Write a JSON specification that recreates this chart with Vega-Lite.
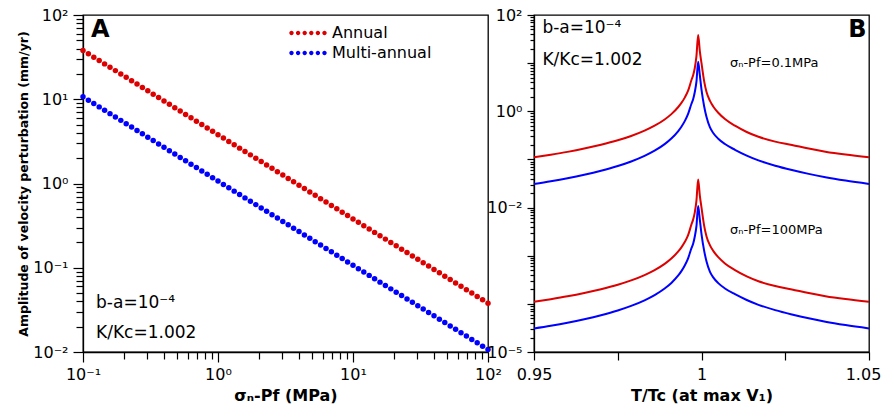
{
  "$schema": "https://vega.github.io/schema/vega-lite/v6.json",
  "padding": {"left": 16, "top": 6, "right": 14, "bottom": 8},
  "bounds": "flush",
  "spacing": 46,
  "resolve": {"scale": {"color": "independent"}, "legend": {"color": "independent"}},
  "config": {
    "font": "DejaVu Sans",
    "view": {"stroke": "black", "strokeWidth": 1.3},
    "axis": {"grid": false, "domainColor": "black", "tickColor": "black", "labelColor": "black", "titleColor": "black", "domainWidth": 1.3, "tickWidth": 1.2, "labelOverlap": false, "labelFontSize": 16}
  },
  "hconcat": [
    {
      "width": 405,
      "height": 337,
      "layer": [
        {
          "data": {"values": [
            {"x":0.1,"Annual":38,"Multi-annual":10.7},
            {"x":0.10965,"Annual":34.656,"Multi-annual":9.759},
            {"x":0.12023,"Annual":31.607,"Multi-annual":8.9},
            {"x":0.13183,"Annual":28.826,"Multi-annual":8.117},
            {"x":0.14454,"Annual":26.29,"Multi-annual":7.403},
            {"x":0.15849,"Annual":23.976,"Multi-annual":6.751},
            {"x":0.17378,"Annual":21.867,"Multi-annual":6.157},
            {"x":0.19055,"Annual":19.943,"Multi-annual":5.615},
            {"x":0.20893,"Annual":18.188,"Multi-annual":5.121},
            {"x":0.22909,"Annual":16.588,"Multi-annual":4.671},
            {"x":0.25119,"Annual":15.128,"Multi-annual":4.26},
            {"x":0.27542,"Annual":13.797,"Multi-annual":3.885},
            {"x":0.302,"Annual":12.583,"Multi-annual":3.543},
            {"x":0.33113,"Annual":11.476,"Multi-annual":3.231},
            {"x":0.36308,"Annual":10.466,"Multi-annual":2.947},
            {"x":0.39811,"Annual":9.545,"Multi-annual":2.688},
            {"x":0.43652,"Annual":8.705,"Multi-annual":2.451},
            {"x":0.47863,"Annual":7.939,"Multi-annual":2.236},
            {"x":0.52481,"Annual":7.241,"Multi-annual":2.039},
            {"x":0.57544,"Annual":6.604,"Multi-annual":1.859},
            {"x":0.63096,"Annual":6.023,"Multi-annual":1.696},
            {"x":0.69183,"Annual":5.493,"Multi-annual":1.547},
            {"x":0.75858,"Annual":5.01,"Multi-annual":1.411},
            {"x":0.83176,"Annual":4.569,"Multi-annual":1.286},
            {"x":0.91201,"Annual":4.167,"Multi-annual":1.173},
            {"x":1,"Annual":3.8,"Multi-annual":1.07},
            {"x":1.0965,"Annual":3.4656,"Multi-annual":0.9759},
            {"x":1.2023,"Annual":3.1607,"Multi-annual":0.89},
            {"x":1.3183,"Annual":2.8826,"Multi-annual":0.8117},
            {"x":1.4454,"Annual":2.629,"Multi-annual":0.7403},
            {"x":1.5849,"Annual":2.3976,"Multi-annual":0.6751},
            {"x":1.7378,"Annual":2.1867,"Multi-annual":0.6157},
            {"x":1.9055,"Annual":1.9943,"Multi-annual":0.5615},
            {"x":2.0893,"Annual":1.8188,"Multi-annual":0.5121},
            {"x":2.2909,"Annual":1.6588,"Multi-annual":0.4671},
            {"x":2.5119,"Annual":1.5128,"Multi-annual":0.426},
            {"x":2.7542,"Annual":1.3797,"Multi-annual":0.3885},
            {"x":3.02,"Annual":1.2583,"Multi-annual":0.3543},
            {"x":3.3113,"Annual":1.1476,"Multi-annual":0.3231},
            {"x":3.6308,"Annual":1.0466,"Multi-annual":0.2947},
            {"x":3.9811,"Annual":0.9545,"Multi-annual":0.2688},
            {"x":4.3652,"Annual":0.8705,"Multi-annual":0.2451},
            {"x":4.7863,"Annual":0.7939,"Multi-annual":0.2236},
            {"x":5.2481,"Annual":0.7241,"Multi-annual":0.2039},
            {"x":5.7544,"Annual":0.6604,"Multi-annual":0.1859},
            {"x":6.3096,"Annual":0.6023,"Multi-annual":0.1696},
            {"x":6.9183,"Annual":0.5493,"Multi-annual":0.1547},
            {"x":7.5858,"Annual":0.501,"Multi-annual":0.1411},
            {"x":8.3176,"Annual":0.4569,"Multi-annual":0.1286},
            {"x":9.1201,"Annual":0.4167,"Multi-annual":0.1173},
            {"x":10,"Annual":0.38,"Multi-annual":0.107},
            {"x":10.965,"Annual":0.34656,"Multi-annual":0.09759},
            {"x":12.023,"Annual":0.31607,"Multi-annual":0.089},
            {"x":13.183,"Annual":0.28826,"Multi-annual":0.08117},
            {"x":14.454,"Annual":0.2629,"Multi-annual":0.07403},
            {"x":15.849,"Annual":0.23976,"Multi-annual":0.06751},
            {"x":17.378,"Annual":0.21867,"Multi-annual":0.06157},
            {"x":19.055,"Annual":0.19943,"Multi-annual":0.05615},
            {"x":20.893,"Annual":0.18188,"Multi-annual":0.05121},
            {"x":22.909,"Annual":0.16588,"Multi-annual":0.04671},
            {"x":25.119,"Annual":0.15128,"Multi-annual":0.0426},
            {"x":27.542,"Annual":0.13797,"Multi-annual":0.03885},
            {"x":30.2,"Annual":0.12583,"Multi-annual":0.03543},
            {"x":33.113,"Annual":0.11476,"Multi-annual":0.03231},
            {"x":36.308,"Annual":0.10466,"Multi-annual":0.02947},
            {"x":39.811,"Annual":0.09545,"Multi-annual":0.02688},
            {"x":43.652,"Annual":0.08705,"Multi-annual":0.02451},
            {"x":47.863,"Annual":0.07939,"Multi-annual":0.02236},
            {"x":52.481,"Annual":0.07241,"Multi-annual":0.02039},
            {"x":57.544,"Annual":0.06604,"Multi-annual":0.01859},
            {"x":63.096,"Annual":0.06023,"Multi-annual":0.01696},
            {"x":69.183,"Annual":0.05493,"Multi-annual":0.01547},
            {"x":75.858,"Annual":0.0501,"Multi-annual":0.01411},
            {"x":83.176,"Annual":0.04569,"Multi-annual":0.01286},
            {"x":91.201,"Annual":0.04167,"Multi-annual":0.01173},
            {"x":100,"Annual":0.038,"Multi-annual":0.0107}
          ]},
          "transform": [{"fold": ["Annual", "Multi-annual"], "as": ["series", "y"]}],
          "mark": {"type": "point", "filled": true, "size": 30, "opacity": 1},
          "encoding": {
            "x": {"field": "x", "type": "quantitative", "scale": {"type": "log", "domain": [0.1, 100]},
              "axis": {"values": [0.1,0.2,0.3,0.4,0.5,0.6,0.7,0.8,0.9,1,2,3,4,5,6,7,8,9,10,20,30,40,50,60,70,80,90,100],
                "labelExpr": "datum.value==0.1?'10⁻¹':datum.value==1?'10⁰':datum.value==10?'10¹':datum.value==100?'10²':''",
                "labelFlush": false,
                "tickSize": {"condition": {"test": "datum.value==0.1||datum.value==1||datum.value==10||datum.value==100", "value": 10}, "value": 7},
                "labelPadding": 4,
                "title": "σₙ-Pf (MPa)", "titleFontSize": 16, "titleFontWeight": "bold", "titleY": 43, "titleBaseline": "middle"}},
            "y": {"field": "y", "type": "quantitative", "scale": {"type": "log", "domain": [0.01, 100]},
              "axis": {"values": [0.01,0.02,0.03,0.04,0.05,0.06,0.07,0.08,0.09,0.1,0.2,0.3,0.4,0.5,0.6,0.7,0.8,0.9,1,2,3,4,5,6,7,8,9,10,20,30,40,50,60,70,80,90,100],
                "labelExpr": "datum.value==100?'10²':datum.value==10?'10¹':datum.value==1?'10⁰':datum.value==0.1?'10⁻¹':datum.value==0.01?'10⁻²':''",
                "tickSize": {"condition": {"test": "datum.value==0.01||datum.value==0.1||datum.value==1||datum.value==10||datum.value==100", "value": 10}, "value": 7},
                "labelPadding": 5,
                "title": "Amplitude of velocity perturbation (mm/yr)", "titleFontSize": 12.5, "titleFontWeight": "bold",
                "titleX": -60, "titleY": 168.5, "titleAngle": 270, "titleAlign": "center", "titleBaseline": "middle"}},
            "color": {"field": "series", "type": "nominal",
              "scale": {"domain": ["Annual", "Multi-annual"], "range": ["#dd0000", "#0000ff"]},
              "legend": {"orient": "none", "legendX": 215, "legendY": 8, "title": null, "padding": 0, "rowPadding": 2,
                "symbolType": "M-1.87,0a0.22,0.22 0 1,0 0.44,0a0.22,0.22 0 1,0 -0.44,0Z M-1.21,0a0.22,0.22 0 1,0 0.44,0a0.22,0.22 0 1,0 -0.44,0Z M-0.55,0a0.22,0.22 0 1,0 0.44,0a0.22,0.22 0 1,0 -0.44,0Z M0.11,0a0.22,0.22 0 1,0 0.44,0a0.22,0.22 0 1,0 -0.44,0Z M0.77,0a0.22,0.22 0 1,0 0.44,0a0.22,0.22 0 1,0 -0.44,0Z M1.43,0a0.22,0.22 0 1,0 0.44,0a0.22,0.22 0 1,0 -0.44,0Z",
                "symbolSize": 400, "symbolStrokeWidth": 0, "symbolOpacity": 1, "labelFontSize": 16, "labelOffset": 14, "labelColor": "black"}}
          }
        },
        {
          "data": {"values": [
            {"x": 0.125, "y": 0.0382, "label": "b-a=10⁻⁴"},
            {"x": 0.125, "y": 0.0168, "label": "K/Kc=1.002"}
          ]},
          "mark": {"type": "text", "align": "left", "baseline": "middle", "fontSize": 17, "color": "black"},
          "encoding": {
            "x": {"field": "x", "type": "quantitative", "scale": {"type": "log", "domain": [0.1, 100]}},
            "y": {"field": "y", "type": "quantitative", "scale": {"type": "log", "domain": [0.01, 100]}},
            "text": {"field": "label"}
          }
        },
        {
          "data": {"values": [{"x": 0.1146, "y": 66.4, "label": "A"}]},
          "mark": {"type": "text", "align": "left", "baseline": "middle", "fontSize": 24, "fontWeight": "bold", "color": "black"},
          "encoding": {
            "x": {"field": "x", "type": "quantitative", "scale": {"type": "log", "domain": [0.1, 100]}},
            "y": {"field": "y", "type": "quantitative", "scale": {"type": "log", "domain": [0.01, 100]}},
            "text": {"field": "label"}
          }
        }
      ]
    },
    {
      "width": 335,
      "height": 337,
      "layer": [
        {
          "data": {"values": [
            {"t":0.95,"a1":0.1107,"m1":0.0309,"a2":0.0001107,"m2":0.0000309},
            {"t":0.955,"a1":0.1253,"m1":0.03516,"a2":0.0001253,"m2":0.00003516},
            {"t":0.96,"a1":0.1435,"m1":0.04064,"a2":0.0001435,"m2":0.00004064},
            {"t":0.965,"a1":0.1679,"m1":0.04797,"a2":0.0001679,"m2":0.00004797},
            {"t":0.97,"a1":0.2014,"m1":0.05808,"a2":0.0002014,"m2":0.00005808},
            {"t":0.975,"a1":0.2495,"m1":0.07278,"a2":0.0002495,"m2":0.00007278},
            {"t":0.979,"a1":0.3069,"m1":0.09057,"a2":0.0003069,"m2":0.00009057},
            {"t":0.983,"a1":0.3963,"m1":0.1183,"a2":0.0003963,"m2":0.0001183},
            {"t":0.986,"a1":0.5023,"m1":0.1517,"a2":0.0005023,"m2":0.0001517},
            {"t":0.989,"a1":0.6761,"m1":0.208,"a2":0.0006761,"m2":0.000208},
            {"t":0.991,"a1":0.873,"m1":0.2716,"a2":0.000873,"m2":0.0002716},
            {"t":0.993,"a1":1.213,"m1":0.3837,"a2":0.001213,"m2":0.0003837},
            {"t":0.994,"a1":1.493,"m1":0.4775,"a2":0.001493,"m2":0.0004775},
            {"t":0.995,"a1":1.923,"m1":0.6252,"a2":0.001923,"m2":0.0006252},
            {"t":0.996,"a1":2.673,"m1":0.8831,"a2":0.002673,"m2":0.0008831},
            {"t":0.997,"a1":4.467,"m1":1.4355,"a2":0.004467,"m2":0.0014355},
            {"t":0.9975,"a1":5.623,"m1":1.778,"a2":0.005623,"m2":0.001778},
            {"t":0.998,"a1":7.943,"m1":2.512,"a2":0.007943,"m2":0.002512},
            {"t":0.9985,"a1":14.13,"m1":4.169,"a2":0.01413,"m2":0.004169},
            {"t":0.999,"a1":38.46,"m1":10.72,"a2":0.03846,"m2":0.01072},
            {"t":0.9995,"a1":17.78,"m1":5.623,"a2":0.01778,"m2":0.005623},
            {"t":1.0,"a1":10.0,"m1":2.818,"a2":0.01,"m2":0.002818},
            {"t":1.0008,"a1":4.169,"m1":1.259,"a2":0.004169,"m2":0.001259},
            {"t":1.0015,"a1":2.512,"m1":0.7586,"a2":0.002512,"m2":0.0007586},
            {"t":1.0025,"a1":1.66,"m1":0.4677,"a2":0.00166,"m2":0.0004677},
            {"t":1.0035,"a1":1.259,"m1":0.3548,"a2":0.001259,"m2":0.0003548},
            {"t":1.005,"a1":0.9333,"m1":0.2692,"a2":0.0009333,"m2":0.0002692},
            {"t":1.007,"a1":0.6918,"m1":0.2089,"a2":0.0006918,"m2":0.0002089},
            {"t":1.01,"a1":0.5012,"m1":0.1585,"a2":0.0005012,"m2":0.0001585},
            {"t":1.0135,"a1":0.3715,"m1":0.1202,"a2":0.0003715,"m2":0.0001202},
            {"t":1.017,"a1":0.2951,"m1":0.0955,"a2":0.0002951,"m2":0.0000955},
            {"t":1.022,"a1":0.2344,"m1":0.07413,"a2":0.0002344,"m2":0.00007413},
            {"t":1.027,"a1":0.1995,"m1":0.06026,"a2":0.0001995,"m2":0.00006026},
            {"t":1.032,"a1":0.1679,"m1":0.05012,"a2":0.0001679,"m2":0.00005012},
            {"t":1.037,"a1":0.1445,"m1":0.04266,"a2":0.0001445,"m2":0.00004266},
            {"t":1.043,"a1":0.1259,"m1":0.03631,"a2":0.0001259,"m2":0.00003631},
            {"t":1.05,"a1":0.1107,"m1":0.0309,"a2":0.0001107,"m2":0.0000309}
          ]},
          "transform": [{"fold": ["a1", "a2", "m1", "m2"], "as": ["key", "v"]}],
          "mark": {"type": "line", "strokeWidth": 2, "interpolate": "monotone"},
          "encoding": {
            "x": {"field": "t", "type": "quantitative", "scale": {"domain": [0.95, 1.05], "nice": false, "zero": false},
              "axis": {"values": [0.95, 0.975, 1, 1.025, 1.05],
                "labelExpr": "datum.value==0.975||datum.value==1.025?'':datum.value==1?'1':format(datum.value,'.2f')",
                "labelFlush": false, "tickSize": 8, "labelPadding": 6,
                "labelOffset": {"condition": {"test": "datum.value==1.05", "value": -6}, "value": 0},
                "title": "T/Tc (at max V₁)", "titleFontSize": 16, "titleFontWeight": "bold", "titleY": 43, "titleBaseline": "middle"}},
            "y": {"field": "v", "type": "quantitative", "scale": {"type": "log", "domain": [0.00001, 100]},
              "axis": {"values": [0.00001,0.00002,0.00003,0.00004,0.00005,0.00006,0.00007,0.00008,0.00009,0.0001,0.0002,0.0003,0.0004,0.0005,0.0006,0.0007,0.0008,0.0009,0.001,0.002,0.003,0.004,0.005,0.006,0.007,0.008,0.009,0.01,0.02,0.03,0.04,0.05,0.06,0.07,0.08,0.09,0.1,0.2,0.3,0.4,0.5,0.6,0.7,0.8,0.9,1,2,3,4,5,6,7,8,9,10,20,30,40,50,60,70,80,90,100],
                "labelExpr": "datum.value==100?'10²':datum.value==1?'10⁰':datum.value==0.01?'10⁻²':datum.value==0.00001?'10⁻⁵':''",
                "tickSize": {"condition": {"test": "datum.value==0.00001||datum.value==0.0001||datum.value==0.001||datum.value==0.01||datum.value==0.1||datum.value==1||datum.value==10||datum.value==100", "value": 7}, "value": 4},
                "labelPadding": 5, "title": null}},
            "color": {"field": "key", "type": "nominal", "scale": {"domain": ["a1", "a2", "m1", "m2"], "range": ["#dd0000", "#dd0000", "#0000ff", "#0000ff"]}, "legend": null}
          }
        },
        {
          "data": {"values": [
            {"t": 0.9525, "v": 53.7, "label": "b-a=10⁻⁴"},
            {"t": 0.9525, "v": 11.6, "label": "K/Kc=1.002"}
          ]},
          "mark": {"type": "text", "align": "left", "baseline": "middle", "fontSize": 17, "color": "black"},
          "encoding": {
            "x": {"field": "t", "type": "quantitative", "scale": {"domain": [0.95, 1.05], "nice": false, "zero": false}},
            "y": {"field": "v", "type": "quantitative", "scale": {"type": "log", "domain": [0.00001, 100]}},
            "text": {"field": "label"}
          }
        },
        {
          "data": {"values": [
            {"t": 1.0085, "v": 10.07, "label": "σₙ-Pf=0.1MPa"},
            {"t": 1.0085, "v": 0.00342, "label": "σₙ-Pf=100MPa"}
          ]},
          "mark": {"type": "text", "align": "left", "baseline": "middle", "fontSize": 13, "color": "black"},
          "encoding": {
            "x": {"field": "t", "type": "quantitative", "scale": {"domain": [0.95, 1.05], "nice": false, "zero": false}},
            "y": {"field": "v", "type": "quantitative", "scale": {"type": "log", "domain": [0.00001, 100]}},
            "text": {"field": "label"}
          }
        },
        {
          "data": {"values": [{"t": 1.0493, "v": 48.8, "label": "B"}]},
          "mark": {"type": "text", "align": "right", "baseline": "middle", "fontSize": 24, "fontWeight": "bold", "color": "black"},
          "encoding": {
            "x": {"field": "t", "type": "quantitative", "scale": {"domain": [0.95, 1.05], "nice": false, "zero": false}},
            "y": {"field": "v", "type": "quantitative", "scale": {"type": "log", "domain": [0.00001, 100]}},
            "text": {"field": "label"}
          }
        }
      ]
    }
  ]
}
